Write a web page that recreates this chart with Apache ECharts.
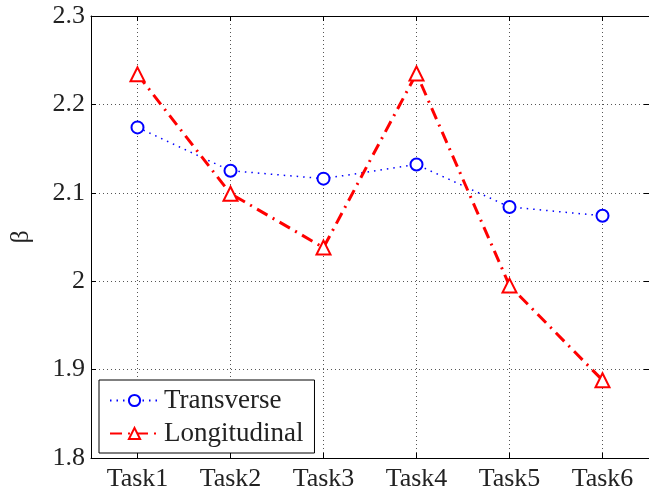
<!DOCTYPE html>
<html>
<head>
<meta charset="utf-8">
<script src="https://cdn.jsdelivr.net/npm/echarts@6/dist/echarts.min.js"></script>
<style>
html,body{margin:0;padding:0;background:#fff;}
#c{width:649px;height:492px;}
</style>
</head>
<body>
<div id="c"></div>
<script>
const categories = ['Task1','Task2','Task3','Task4','Task5','Task6'];
const transverse = [2.174, 2.125, 2.116, 2.132, 2.084, 2.074];
const longitudinal = [2.234, 2.099, 2.038, 2.235, 1.995, 1.888];
const yMin = 1.8, yMax = 2.3, yStep = 0.1;

const font = 'Liberation Serif, Times New Roman, serif';
const chart = echarts.init(document.getElementById('c'), null, {renderer:'canvas'});
const gridDot = {show:true, lineStyle:{color:'#555', width:1, type:[1,3]}};
chart.setOption({
  animation:false,
  backgroundColor:'#fff',
  grid:{left:91, top:16, right:-3, bottom:34, containLabel:false},
  legend:{
    left:99, top:380, orient:'vertical',
    backgroundColor:'#fff', borderColor:'#000', borderWidth:1,
    padding:[7,11,6,10], itemGap:6, itemWidth:49, itemHeight:14,
    textStyle:{fontFamily:font, fontSize:27, color:'#222', padding:[0,0,0,0]},
    data:['Transverse','Longitudinal']
  },
  xAxis:[{
    type:'category', data:categories, boundaryGap:true, position:'bottom',
    axisLine:{show:true, lineStyle:{color:'#000', width:1}},
    axisTick:{show:true, inside:true, length:5, alignWithLabel:true, lineStyle:{color:'#000'}},
    axisLabel:{fontFamily:font, fontSize:26, color:'#222', margin:8},
    splitLine:Object.assign({alignWithLabel:true}, gridDot)
  },{
    type:'category', data:categories, boundaryGap:true, position:'top',
    axisLine:{show:true, onZero:false, lineStyle:{color:'#000', width:1}},
    axisTick:{show:true, inside:true, length:5, alignWithLabel:true, lineStyle:{color:'#000'}},
    axisLabel:{show:false}, splitLine:{show:false}
  }],
  yAxis:[{
    type:'value', min:yMin, max:yMax, interval:yStep, position:'left',
    name:'β', nameLocation:'middle', nameGap:57,
    nameTextStyle:{fontFamily:font, fontSize:26, color:'#222'},
    axisLine:{show:true, lineStyle:{color:'#000', width:1}},
    axisTick:{show:true, inside:true, length:5, lineStyle:{color:'#000'}},
    axisLabel:{fontFamily:font, fontSize:26, color:'#222', margin:6,
      formatter:v=>String(Math.round(v*10)/10)},
    splitLine:gridDot
  },{
    type:'value', min:yMin, max:yMax, interval:yStep, position:'right',
    axisLine:{show:true, lineStyle:{color:'#000', width:1}},
    axisTick:{show:true, inside:true, length:5, lineStyle:{color:'#000'}},
    axisLabel:{show:false}, splitLine:{show:false}
  }],
  series:[{
    name:'Transverse', type:'line', data:transverse, xAxisIndex:0, yAxisIndex:0,
    symbol:'emptyCircle', symbolSize:12,
    lineStyle:{color:'#0000ff', width:1.5, type:[1.5,5]},
    itemStyle:{color:'#0000ff', borderWidth:2}
  },{
    name:'Longitudinal', type:'line', data:longitudinal, xAxisIndex:0, yAxisIndex:0,
    symbol:'emptyTriangle', symbolSize:14,
    lineStyle:{color:'#ff0000', width:3, type:[12,6,2,6]},
    itemStyle:{color:'#ff0000', borderWidth:2}
  }]
});
</script>
</body>
</html>
